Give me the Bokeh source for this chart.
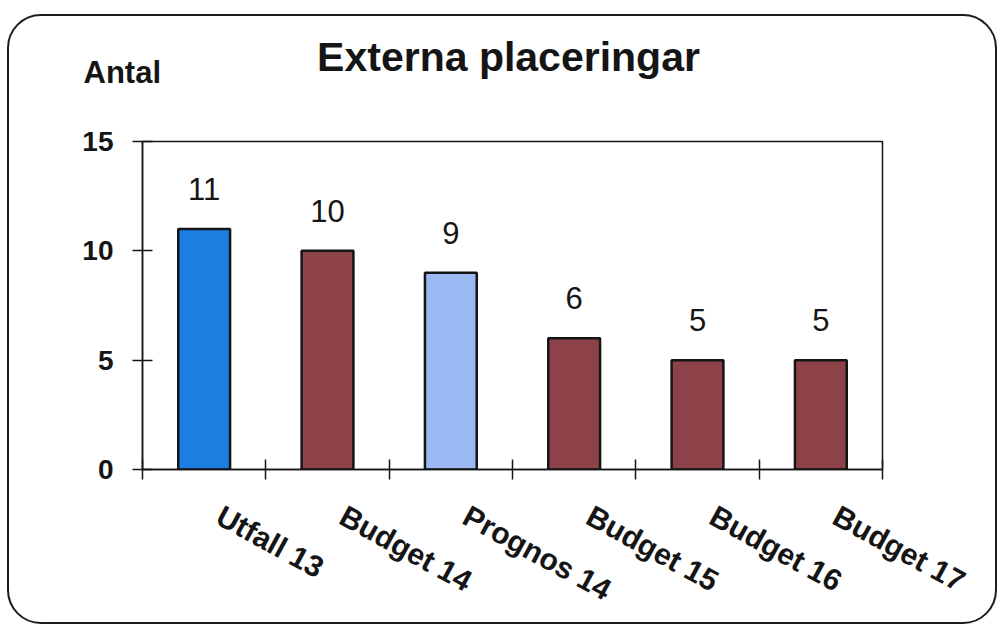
from bokeh.plotting import figure
from bokeh.models import Range1d, FixedTicker, Label, ColumnDataSource
from bokeh.core.properties import value
from bokeh.embed import file_html
from bokeh.resources import INLINE

# Chart data
categories = ["Utfall 13", "Budget 14", "Prognos 14", "Budget 15", "Budget 16", "Budget 17"]
antal = [11, 10, 9, 6, 5, 5]
y_ticks = [0, 5, 10, 15]
title_text = "Externa placeringar"
y_title = "Antal"

# Bar colour by kind of figure (outcome, budget, forecast)
KIND_COLORS = {"Utfall": "#1B7FE2", "Budget": "#8D4249", "Prognos": "#9AB8F2"}
FONT = "Liberation Sans"
INK = "#151515"

n = len(categories)
xs = [i + 0.5 for i in range(n)]
src = ColumnDataSource(dict(
    x=xs,
    top=antal,
    color=[KIND_COLORS[c.split()[0]] for c in categories],
    label=[str(v) for v in antal],
))

p = figure(
    width=990, height=610,
    x_range=Range1d(0, n), y_range=Range1d(0, max(y_ticks)),
    output_backend="svg", toolbar_location=None,
    min_border_left=133, min_border_right=117,
    min_border_top=125, min_border_bottom=157,
    background_fill_color=None, border_fill_color=None,
    outline_line_color=INK, outline_line_width=1.5,
    styles={
        "margin-left": "7px",
        "margin-top": "14px",
        "border": "2px solid #1c1c1c",
        "border-radius": "34px",
    },
)
p.xgrid.visible = False
p.ygrid.visible = False

p.vbar(x="x", top="top", bottom=0, width=0.42, source=src,
       fill_color="color", line_color=INK, line_width=2.5)

# value printed above each bar
p.text(x="x", y="top", text="label", source=src,
       text_align="center", text_baseline="alphabetic", y_offset=-40,
       text_font=value(FONT), text_font_size="31px", text_color=INK)

# x axis: labels start just right of the bar centres, tick marks between categories
xa = p.xaxis[0]
label_ticks = [x + 0.12 for x in xs]
xa.ticker = FixedTicker(ticks=label_ticks, minor_ticks=list(range(n + 1)))
xa.major_label_overrides = dict(zip(label_ticks, categories))
xa.major_tick_in = 0
xa.major_tick_out = 0
xa.minor_tick_in = 10
xa.minor_tick_out = 10
xa.minor_tick_line_color = INK
xa.minor_tick_line_width = 1.5
xa.axis_line_color = INK
xa.axis_line_width = 1.5
xa.major_label_orientation = -0.5
xa.major_label_standoff = 34
xa.major_label_text_font = FONT
xa.major_label_text_font_style = "bold"
xa.major_label_text_font_size = "30px"
xa.major_label_text_color = INK

ya = p.yaxis[0]
ya.ticker = FixedTicker(ticks=y_ticks)
ya.major_tick_in = 10
ya.major_tick_out = 10
ya.major_tick_line_color = INK
ya.major_tick_line_width = 1.5
ya.minor_tick_line_color = None
ya.axis_line_color = INK
ya.axis_line_width = 1.5
ya.major_label_standoff = 19
ya.major_label_text_font = FONT
ya.major_label_text_font_style = "bold"
ya.major_label_text_font_size = "28px"
ya.major_label_text_color = INK

# chart title and axis caption, stacked in the band above the plot frame
p.add_layout(Label(x=366, y=62, x_units="screen", y_units="screen",
                   text=title_text, text_align="center",
                   text_font=FONT, text_font_style="bold",
                   text_font_size="41px", text_color=INK), "above")
p.add_layout(Label(x=-59, y=6, x_units="screen", y_units="screen",
                   text=y_title, text_font=FONT, text_font_style="bold",
                   text_font_size="31px", text_color=INK), "above")

open("out.html", "w").write(file_html(p, INLINE))
